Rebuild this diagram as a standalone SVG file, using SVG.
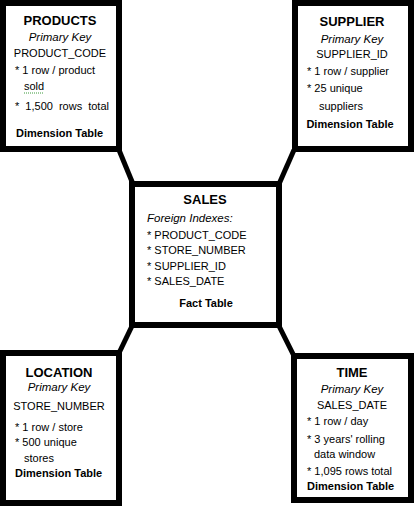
<svg xmlns="http://www.w3.org/2000/svg" width="414" height="506" viewBox="0 0 414 506">
<style>
.box{fill:#fff;stroke:#000;stroke-width:6}
.conn{stroke:#000;stroke-width:5;fill:none}
text{font-family:"Liberation Sans",Arial,sans-serif;fill:#000}
.t{font-size:13px;font-weight:bold;text-anchor:middle}
.k{font-size:11.5px;font-style:italic}
.c{text-anchor:middle}
.f{font-size:11px}
.d{font-size:11px;font-weight:bold}
</style>
<rect width="414" height="506" fill="#fff"/>
<g id="connectors">
<line class="conn" x1="119" y1="150" x2="133" y2="184"/>
<line class="conn" x1="294" y1="150" x2="279" y2="184"/>
<line class="conn" x1="132" y1="326" x2="119" y2="353"/>
<line class="conn" x1="279" y1="326" x2="294" y2="356"/>
</g>
<g id="products">
<rect class="box" x="3" y="3" width="116" height="146"/>
<text class="t" x="60" y="25">PRODUCTS</text>
<text class="k c" x="60" y="41">Primary Key</text>
<text class="f c" x="60" y="57">PRODUCT_CODE</text>
<text class="f" x="15" y="74">* 1 row / product</text>
<text class="f" x="24" y="90">sold</text>
<line x1="24" y1="93" x2="44" y2="93" stroke="#3a9a3a" stroke-width="1" stroke-dasharray="1,1"/>
<text class="f" x="15" y="110" word-spacing="3">* 1,500 rows total</text>
<text class="d" x="16" y="137">Dimension Table</text>
</g>
<g id="supplier">
<rect class="box" x="295" y="3" width="116" height="146"/>
<text class="t" x="352" y="26">SUPPLIER</text>
<text class="k c" x="352" y="43">Primary Key</text>
<text class="f c" x="352" y="58">SUPPLIER_ID</text>
<text class="f" x="307" y="75">* 1 row / supplier</text>
<text class="f" x="307" y="92">* 25 unique</text>
<text class="f" x="319" y="110">suppliers</text>
<text class="d c" x="350" y="128">Dimension Table</text>
</g>
<g id="sales">
<rect class="box" x="132" y="184" width="147" height="141"/>
<text class="t" x="205" y="204">SALES</text>
<text class="k" x="147" y="222">Foreign Indexes:</text>
<text class="f" x="147" y="239">* PRODUCT_CODE</text>
<text class="f" x="147" y="254">* STORE_NUMBER</text>
<text class="f" x="147" y="270">* SUPPLIER_ID</text>
<text class="f" x="147" y="285">* SALES_DATE</text>
<text class="d c" x="206" y="307">Fact Table</text>
</g>
<g id="location">
<rect class="box" x="3" y="353" width="116" height="150"/>
<text class="t" x="59" y="377">LOCATION</text>
<text class="k c" x="59" y="391">Primary Key</text>
<text class="f c" x="59" y="410">STORE_NUMBER</text>
<text class="f" x="15" y="431">* 1 row / store</text>
<text class="f" x="15" y="446">* 500 unique</text>
<text class="f" x="24" y="462">stores</text>
<text class="d" x="15" y="477">Dimension Table</text>
</g>
<g id="time">
<rect class="box" x="294" y="356" width="117" height="144"/>
<text class="t" x="352" y="377">TIME</text>
<text class="k c" x="352" y="393">Primary Key</text>
<text class="f c" x="352" y="409">SALES_DATE</text>
<text class="f" x="307" y="425">* 1 row / day</text>
<text class="f" x="307" y="443">* 3 years' rolling</text>
<text class="f" x="314" y="458">data window</text>
<text class="f" x="307" y="475">* 1,095 rows total</text>
<text class="d" x="307" y="490">Dimension Table</text>
</g>
</svg>
